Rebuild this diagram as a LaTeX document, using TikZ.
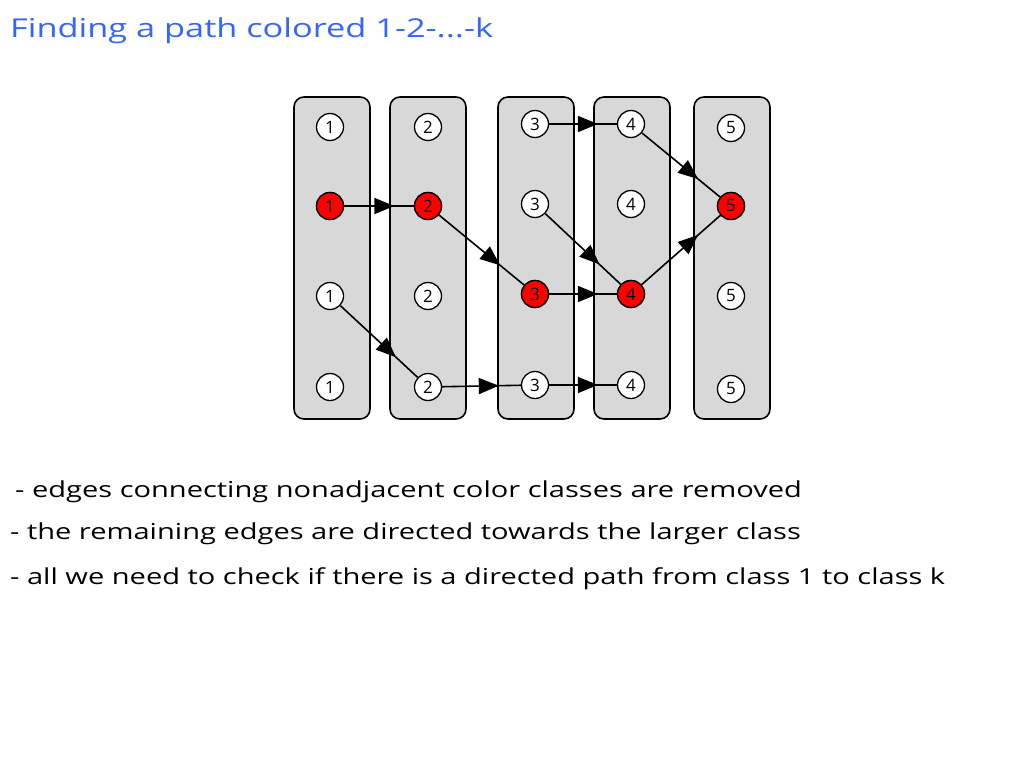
\documentclass[tikz,border=0pt]{standalone}
\usepackage{fontspec}
\setmainfont{Open Sans}
\newfontfamily\widefont[FakeStretch=1.32]{Open Sans}
\usetikzlibrary{arrows.meta,decorations.markings}
\definecolor{colbg}{RGB}{216,216,216}
\definecolor{ttl}{RGB}{51,102,255}
\begin{document}
\begin{tikzpicture}[x=1pt,y=-1pt,
  classbox/.style={draw=black,line width=1.6pt,fill=colbg,rounded corners=10pt},
  vtx/.style={circle,draw=black,line width=1.3pt,fill=white,minimum size=27pt,inner sep=0pt,font=\fontsize{17}{17}\selectfont},
  hot/.style={vtx,fill=red},
  edge/.style={line width=1.6pt,postaction={decorate},decoration={markings,mark=at position 0.72 with {\arrow{Triangle[length=20pt,width=16pt]}}}},
  txt/.style={anchor=west,font=\widefont\fontsize{22}{22}\selectfont,inner sep=0pt}]
\useasboundingbox (0,0) rectangle (1024,768);
\node[anchor=west,text=ttl,font=\widefont\fontsize{26}{26}\selectfont,inner sep=0pt] (title) at (10,31) {Finding a path colored 1-2-...-k};
\foreach \n/\a/\b in {c1/294/370,c2/390/466,c3/498/574,c4/594/670,c5/694/770}
  \draw[classbox] (\a,97) rectangle (\b,419);
\foreach \k/\x/\ya/\yb/\yc/\yd in {1/330/127/206/296/387, 2/428/127/206/296/387, 3/535/124/204/294/385, 4/631/124/204/294/385, 5/731/128/206/296/389}{
  \node[vtx] (v\k a) at (\x,\ya) {\k};
  \node[vtx] (v\k b) at (\x,\yb) {\k};
  \node[vtx] (v\k c) at (\x,\yc) {\k};
  \node[vtx] (v\k d) at (\x,\yd) {\k};
}
\node[hot] at (v1b) {1};
\node[hot] at (v2b) {2};
\node[hot] at (v3c) {3};
\node[hot] at (v4c) {4};
\node[hot] at (v5b) {5};
\foreach \s/\t in {v3a/v4a,v4a/v5b,v1b/v2b,v2b/v3c,v3b/v4c,v3c/v4c,v4c/v5b,v1c/v2d,v2d/v3d,v3d/v4d}
  \draw[edge] (\s) -- (\t);
\node[txt] (l1) at (15,492) {- edges connecting nonadjacent color classes are removed};
\node[txt] (l2) at (10,534) {- the remaining edges are directed towards the larger class};
\node[txt] (l3) at (10,579) {- all we need to check if there is a directed path from class 1 to class k};
\end{tikzpicture}
\end{document}
